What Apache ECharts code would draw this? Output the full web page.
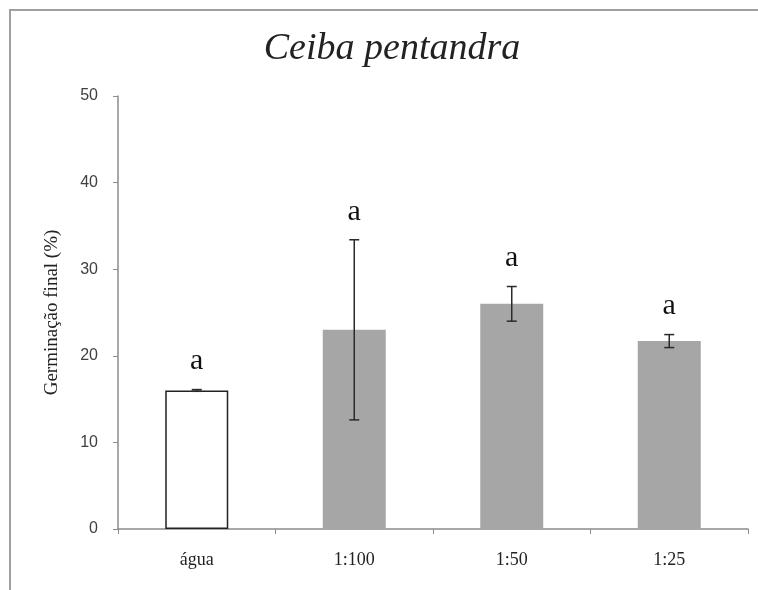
<!DOCTYPE html>
<html><head><meta charset="utf-8">
<script src="https://cdn.jsdelivr.net/npm/echarts@6/dist/echarts.min.js"></script>
<style>html,body{margin:0;padding:0;background:#fff}#c{width:758px;height:590px}</style>
</head><body><div id="c"></div>
<script>
const categories = ['água', '1:100', '1:50', '1:25'];
const values = [16.0, 23.0, 26.0, 21.7];
const errors = [0.1, 10.4, 2.0, 0.75];
const letters = ['a', 'a', 'a', 'a'];
const barColors = ['#ffffff', '#a6a6a6', '#a6a6a6', '#a6a6a6'];
const yTicks = [0, 10, 20, 30, 40, 50];

const chart = echarts.init(document.getElementById('c'), null, {renderer: 'canvas'});
const serif = '"Liberation Serif", "Times New Roman", serif';

chart.setOption({
  animation: false,
  backgroundColor: '#fff',
  title: {
    text: 'Ceiba pentandra',
    left: 387, top: 25, textAlign: 'center',
    textStyle: {fontFamily: serif, fontStyle: 'italic', fontWeight: 'normal', fontSize: 38, color: '#222'}
  },
  graphic: [{
    type: 'polyline', silent: true,
    shape: {points: [[10, 600], [10, 10], [770, 10]]},
    style: {stroke: '#a0a0a0', lineWidth: 2, fill: null}
  }],
  grid: {left: 118, right: 10, top: 96, bottom: 61},
  xAxis: {
    type: 'category', data: categories,
    axisLine: {lineStyle: {color: '#8c8c8c', width: 1.5}},
    axisTick: {show: true, length: 5, lineStyle: {color: '#8c8c8c'}},
    axisLabel: {fontFamily: serif, fontSize: 18, color: '#222', margin: 22}
  },
  yAxis: {
    type: 'value', min: yTicks[0], max: yTicks[yTicks.length - 1], interval: 10,
    name: 'Germinação final (%)', nameLocation: 'middle', nameGap: 56,
    nameTextStyle: {fontFamily: serif, fontSize: 19, color: '#222'},
    axisLine: {show: true, lineStyle: {color: '#8c8c8c', width: 1.5}},
    axisTick: {show: true, length: 5, lineStyle: {color: '#8c8c8c'}},
    axisLabel: {fontFamily: '"Liberation Sans", sans-serif', fontSize: 16, color: '#404040', margin: 20},
    splitLine: {show: false}
  },
  series: [{
    type: 'bar',
    barWidth: '40%',
    data: values.map((v, i) => ({
      value: v,
      itemStyle: {color: barColors[i], borderColor: i === 0 ? '#222' : barColors[i], borderWidth: i === 0 ? 1.5 : 0}
    }))
  }, {
    type: 'custom',
    z: 10,
    data: values.map((v, i) => [i, v, errors[i]]),
    renderItem: function (params, api) {
      const x = api.value(0), v = api.value(1), e = api.value(2);
      const top = api.coord([x, v + e]);
      const bot = api.coord([x, v - e]);
      const cap = 5;
      const style = {stroke: '#2a2a2a', lineWidth: 1.5};
      return {
        type: 'group',
        children: [
          {type: 'line', shape: {x1: top[0], y1: top[1], x2: bot[0], y2: bot[1]}, style: style},
          {type: 'line', shape: {x1: top[0] - cap, y1: top[1], x2: top[0] + cap, y2: top[1]}, style: style},
          {type: 'line', shape: {x1: bot[0] - cap, y1: bot[1], x2: bot[0] + cap, y2: bot[1]}, style: style},
          {type: 'text', style: {
            text: letters[params.dataIndex], x: top[0], y: top[1] - 28,
            align: 'center', verticalAlign: 'middle',
            font: '30px "Liberation Serif", serif', fill: '#111'
          }}
        ]
      };
    }
  }]
});
</script>
</body></html>
